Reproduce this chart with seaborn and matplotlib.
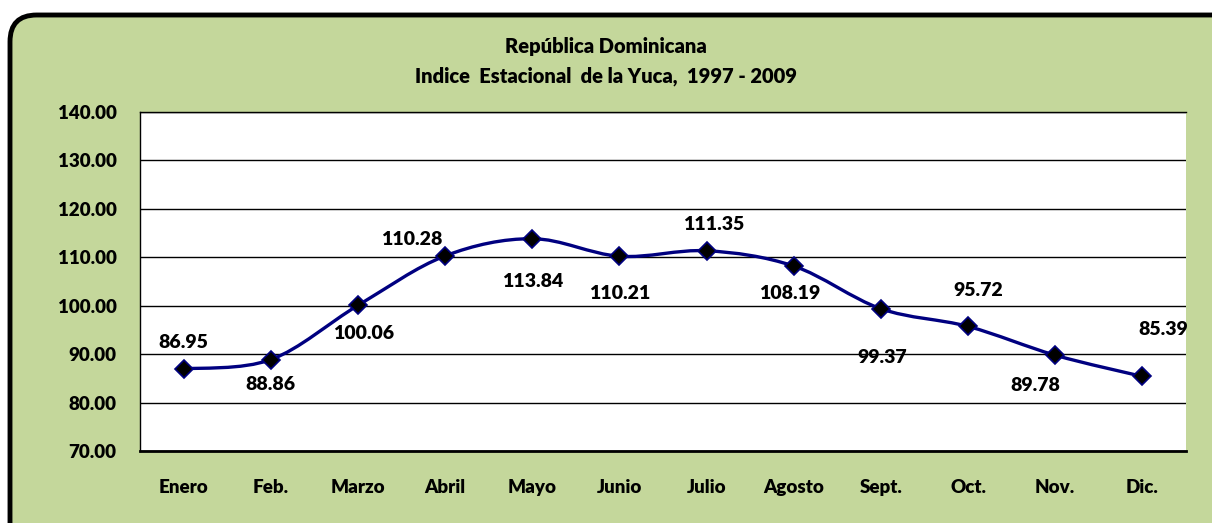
import matplotlib
matplotlib.use("Agg")
import matplotlib.pyplot as plt
import numpy as np
import pandas as pd
import seaborn as sns
from matplotlib.patches import FancyBboxPatch, PathPatch
from matplotlib.path import Path

months = ["Enero", "Feb.", "Marzo", "Abril", "Mayo", "Junio",
          "Julio", "Agosto", "Sept.", "Oct.", "Nov.", "Dic."]
index_values = [86.95, 88.86, 100.06, 110.28, 113.84, 110.21,
                111.35, 108.19, 99.37, 95.72, 89.78, 85.39]
y_ticks = [70, 80, 90, 100, 110, 120, 130, 140]

# label offsets in points (dx, dy)
label_offsets = [(0, 19), (0, -18), (4, -20), (-24, 12), (0, -31), (0, -27),
                 (5, 19), (-3, -20), (1, -35), (7, 26), (-14, -22), (15, 34)]

GREEN = "#C4D79B"
NAVY = "#000080"

sns.set_theme(style="white")
plt.rcParams["font.family"] = ["Lato", "DejaVu Sans"]
plt.rcParams["font.weight"] = "bold"
plt.rcParams["text.color"] = "black"
plt.rcParams["xtick.color"] = "black"
plt.rcParams["ytick.color"] = "black"


def smooth_path(xs, ys, tension=1 / 6):
    # Bezier path through the points, like a spreadsheet "smoothed line"
    pts = np.column_stack([xs, ys])
    verts = [pts[0]]
    codes = [Path.MOVETO]
    n = len(pts)
    for i in range(n - 1):
        p0 = pts[i - 1] if i > 0 else pts[i]
        p1 = pts[i]
        p2 = pts[i + 1]
        p3 = pts[i + 2] if i + 2 < n else pts[i + 1]
        c1 = p1 + (p2 - p0) * tension
        c2 = p2 - (p3 - p1) * tension
        verts += [c1, c2, p2]
        codes += [Path.CURVE4] * 3
    return Path(verts, codes)


df = pd.DataFrame({"pos": np.arange(len(months)), "mes": months, "indice": index_values})

fig = plt.figure(figsize=(12.12, 5.23), dpi=100)
fig.patch.set_facecolor("white")
frame = FancyBboxPatch((10 / 1212, -0.05), 1.1, 1.0 - 15 / 523 + 0.05,
                       boxstyle="round,pad=0,rounding_size=0.022",
                       transform=fig.transFigure, facecolor=GREEN,
                       edgecolor="black", linewidth=3.5, zorder=-5,
                       mutation_aspect=1212 / 523)
fig.patches.append(frame)

ax = fig.add_axes([140 / 1212, 1 - 451 / 523, 1046 / 1212, 339 / 523])
ax.set_zorder(2)
ax.set_facecolor("white")

ax.add_patch(PathPatch(smooth_path(df["pos"].values, df["indice"].values),
                       facecolor="none", edgecolor=NAVY, linewidth=2.4, zorder=3))
sns.lineplot(data=df, x="pos", y="indice", ax=ax, linestyle="none",
             marker="D", markersize=9, markerfacecolor="black",
             markeredgecolor=NAVY, markeredgewidth=1.2, zorder=4)

for (x, y), (dx, dy) in zip(zip(df["pos"], df["indice"]), label_offsets):
    ax.annotate(f"{y:.2f}", (x, y), xytext=(dx, dy), textcoords="offset points",
                ha="center", va="center", fontsize=14, fontweight="heavy", color="black")

ax.set_xlim(-0.5, len(months) - 0.5)
ax.set_ylim(y_ticks[0], y_ticks[-1])
ax.set_yticks(y_ticks)
ax.set_yticklabels([f"{t:.2f}" for t in y_ticks])
ax.set_xticks(df["pos"])
ax.set_xticklabels(months)
ax.tick_params(axis="both", length=0, labelsize=13.5)
ax.tick_params(axis="x", pad=20)
ax.tick_params(axis="y", pad=17)
for lbl in ax.get_xticklabels() + ax.get_yticklabels():
    lbl.set_fontweight("heavy")
ax.set_xlabel("")
ax.set_ylabel("")
ax.grid(axis="y", color="black", linewidth=1.0)
ax.set_axisbelow(True)
for side in ["left", "top"]:
    ax.spines[side].set_color("black")
    ax.spines[side].set_linewidth(1.0)
ax.spines["bottom"].set_color("black")
ax.spines["bottom"].set_linewidth(2.0)
ax.spines["right"].set_visible(False)

fig.text(0.5, 1 - 47 / 523, "República Dominicana", ha="center", va="center",
         fontsize=14.5, fontweight="heavy")
fig.text(0.5, 1 - 76 / 523, "Indice  Estacional  de la Yuca,  1997 - 2009", ha="center",
         va="center", fontsize=14.5, fontweight="heavy")

fig.savefig("out.png", dpi=100)
